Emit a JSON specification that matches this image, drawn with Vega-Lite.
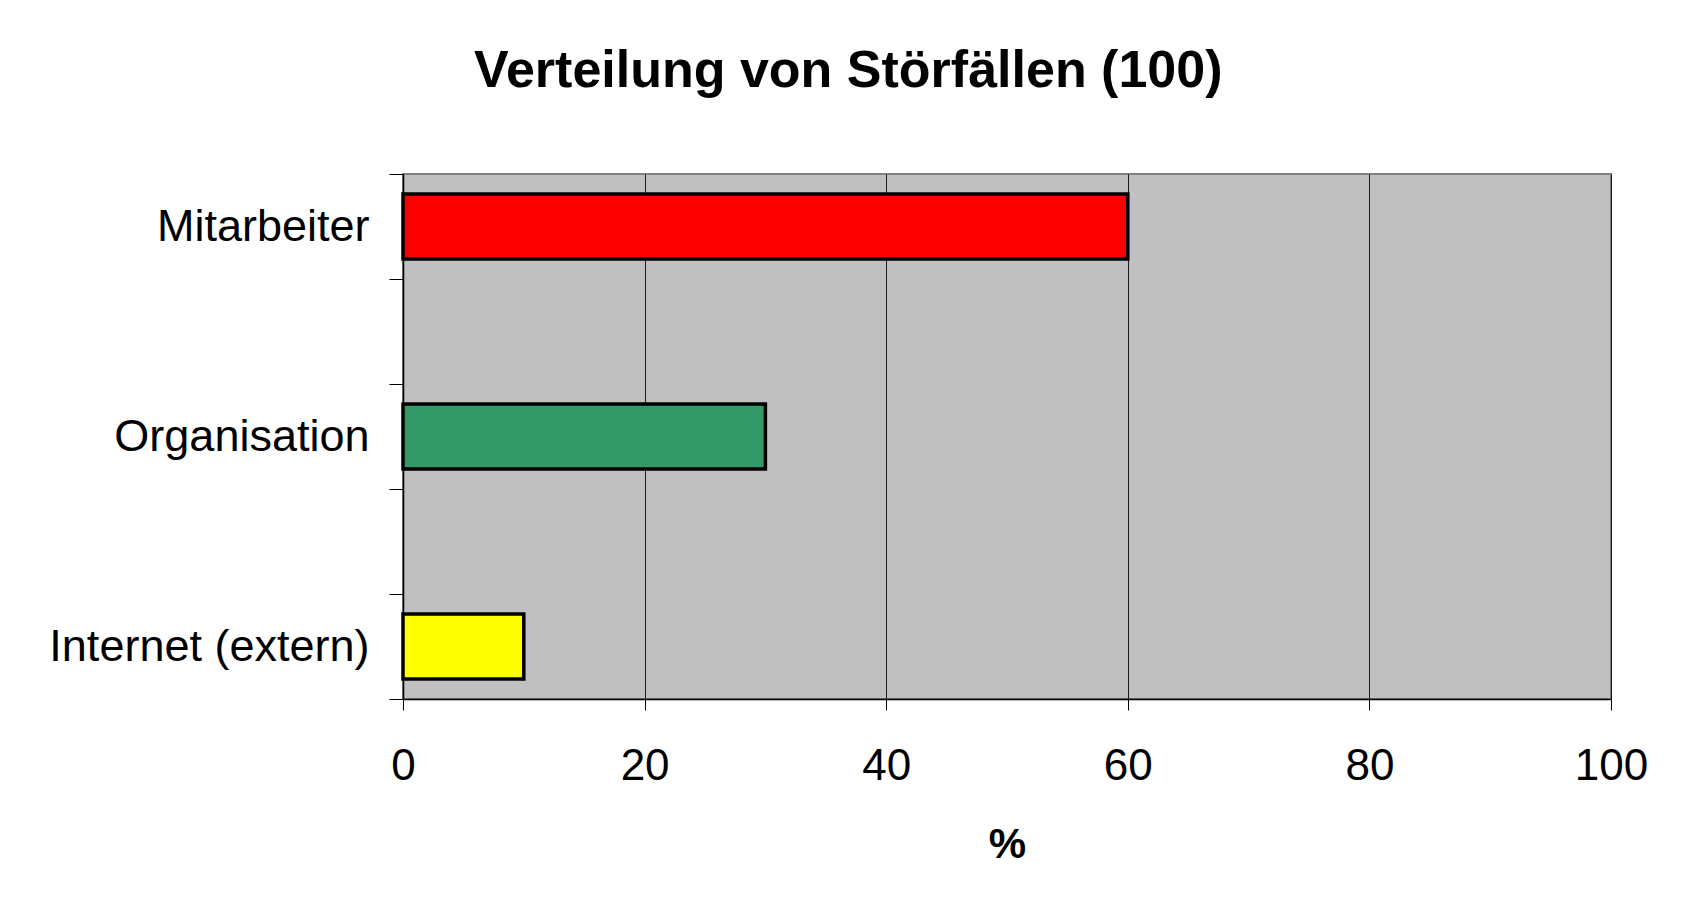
{
  "$schema": "https://vega.github.io/schema/vega-lite/v6.json",
  "width": 1208,
  "height": 525,
  "autosize": {"type": "none"},
  "padding": {"left": 403, "top": 174, "right": 76, "bottom": 223},
  "background": "white",
  "title": {
    "text": "Verteilung von Störfällen (100)",
    "font": "Liberation Sans",
    "fontSize": 52,
    "fontWeight": "bold",
    "color": "black",
    "anchor": "middle",
    "frame": "bounds",
    "offset": 54
  },
  "data": {
    "values": [
      {"Kategorie": "Mitarbeiter", "Prozent": 60},
      {"Kategorie": "Organisation", "Prozent": 30},
      {"Kategorie": "Internet (extern)", "Prozent": 10}
    ]
  },
  "mark": {"type": "bar", "stroke": "black", "strokeWidth": 3.5, "height": {"band": 0.62}},
  "encoding": {
    "y": {
      "field": "Kategorie",
      "type": "nominal",
      "sort": null,
      "scale": {
        "domain": ["Mitarbeiter", " ", "Organisation", "  ", "Internet (extern)"],
        "paddingInner": 0,
        "paddingOuter": 0
      },
      "axis": {
        "title": null,
        "tickBand": "extent",
        "ticks": true,
        "tickSize": 14,
        "tickColor": "black",
        "tickWidth": 1,
        "domain": true,
        "domainColor": "black",
        "domainWidth": 1.5,
        "grid": false,
        "labelFont": "Liberation Sans",
        "labelFontSize": 45,
        "labelColor": "black",
        "labelPadding": 20,
        "labelLimit": 500
      }
    },
    "x": {
      "field": "Prozent",
      "type": "quantitative",
      "scale": {"domain": [0, 100], "nice": false},
      "axis": {
        "title": "%",
        "titleFont": "Liberation Sans",
        "titleFontSize": 42,
        "titleFontWeight": "bold",
        "titleColor": "black",
        "titleBaseline": "alphabetic",
        "titleY": 158,
        "values": [0, 20, 40, 60, 80, 100],
        "tickSize": 11,
        "tickColor": "black",
        "tickWidth": 1,
        "domainColor": "black",
        "domainWidth": 1.5,
        "grid": true,
        "gridColor": "black",
        "gridWidth": 1,
        "gridOpacity": 0.85,
        "labelFont": "Liberation Sans",
        "labelFontSize": 44,
        "labelColor": "black",
        "labelPadding": 69,
        "labelBaseline": "alphabetic",
        "labelFlush": false
      }
    },
    "color": {
      "field": "Kategorie",
      "type": "nominal",
      "scale": {
        "domain": ["Mitarbeiter", "Organisation", "Internet (extern)"],
        "range": ["#FF0000", "#339966", "#FFFF00"]
      },
      "legend": null
    }
  },
  "config": {
    "view": {"fill": "#C0C0C0", "stroke": "#808080", "strokeWidth": 2}
  }
}
